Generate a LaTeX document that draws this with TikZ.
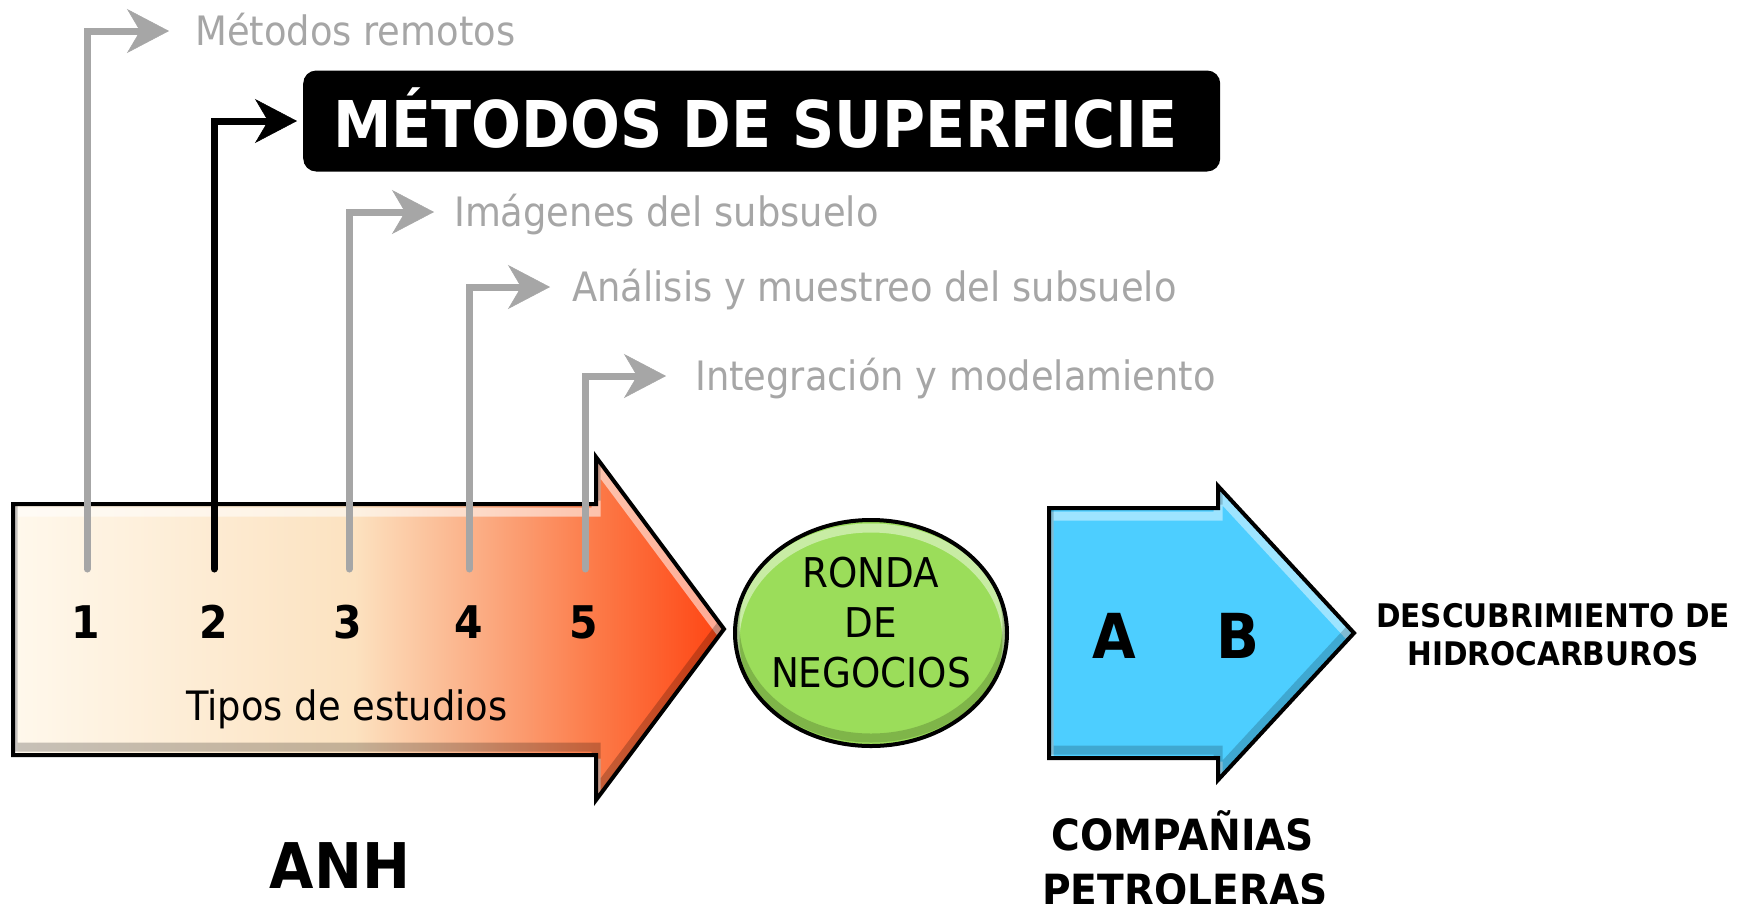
\documentclass[tikz,border=0pt]{standalone}
\usepackage{fontspec}
\setmainfont{DejaVu Sans}[FakeStretch=0.91]
\usetikzlibrary{arrows.meta,shapes.geometric}
\definecolor{grayline}{RGB}{166,166,166}
\definecolor{rondagreen}{RGB}{155,221,90}
\definecolor{ciablue}{RGB}{77,206,255}
\definecolor{ca}{RGB}{255,248,236}
\definecolor{cb}{RGB}{253,236,212}
\definecolor{cc}{RGB}{252,226,192}
\definecolor{cd}{RGB}{251,178,138}
\definecolor{ce}{RGB}{252,122,72}
\definecolor{cf}{RGB}{255,68,18}
\pgfdeclarehorizontalshading{bigarrowshade}{100bp}{color(0bp)=(ca); color(25bp)=(ca); color(38bp)=(cb); color(49bp)=(cc); color(57bp)=(cd); color(66bp)=(ce); color(75bp)=(cf); color(100bp)=(cf)}
\newcommand\bigarrowpts{(13,504) -- (596,504) -- (596,457) -- (724,629) -- (596,800) -- (596,755) -- (13,755) -- cycle}
\newcommand\bluearrowpts{(1049,508) -- (1218,508) -- (1218,486) -- (1354,633) -- (1218,780) -- (1218,758) -- (1049,758) -- cycle}
\begin{document}
\begin{tikzpicture}[x=1pt, y=-1pt,
  conngray/.style={draw=grayline, line width=7pt, line cap=round, line join=miter,
    -{Stealth[length=42pt,width=44pt,inset=13pt,line width=0.5pt]}},
  connblack/.style={conngray, draw=black},
  graytext/.style={text=grayline, font=\fontsize{40.5}{48}\selectfont, anchor=west,
    inner sep=0pt, text height=29.5pt, text depth=0pt},
  numnode/.style={font=\bfseries\fontsize{45}{50}\selectfont, anchor=base, inner sep=0pt},
  regtext/.style={font=\fontsize{41}{50}\selectfont, inner sep=0pt, align=center},
  boldlabel/.style={font=\bfseries\fontsize{43}{55}\selectfont, inner sep=0pt, anchor=base},
  outline/.style={draw=black, line width=4pt, line join=miter},
  hilite/.style={draw=white, opacity=0.55, line width=9pt},
  shadow/.style={draw=black, opacity=0.22, line width=9pt}]
\fill[white] (0,0) rectangle (1748,903);
\useasboundingbox (0,0) rectangle (1748,903);

% big arrow
\shade[shading=bigarrowshade] \bigarrowpts;
\begin{scope}
  \clip \bigarrowpts;
  \path[hilite, yshift=-8pt] \bigarrowpts;
  \path[shadow, yshift=8pt] \bigarrowpts;
\end{scope}
\path[outline] \bigarrowpts;

% numbers
\node[numnode] (n1) at (86,638) {1};
\node[numnode] (n2) at (214,638) {2};
\node[numnode] (n3) at (348,638) {3};
\node[numnode] (n4) at (469,638) {4};
\node[numnode] (n5) at (584,638) {5};
\node[font=\fontsize{40.5}{48}\selectfont, anchor=base, inner sep=0pt] (tipos) at (347,720) {Tipos de estudios};
\node[font=\bfseries\fontsize{63}{70}\selectfont, anchor=base, inner sep=0pt] (anh) at (340,888) {ANH};

% connector starts
\coordinate (s1) at (87,569);
\coordinate (s2) at (214,569);
\coordinate (s3) at (349,569);
\coordinate (s4) at (469,569);
\coordinate (s5) at (585,569);

% upper labels
\node[graytext] (t1) at (195,31) {Métodos remotos};
\node[draw=none, fill=black, rounded corners=13pt, minimum width=917pt, minimum height=101pt, inner sep=0pt, anchor=west] (box) at (303,121) {};
\node[text=white, font=\bfseries\fontsize{64.5}{70}\selectfont, anchor=base west, inner sep=0pt] (boxtext) at (333,147) {MÉTODOS DE SUPERFICIE};
\node[graytext] (t3) at (454,212) {Imágenes del subsuelo};
\node[graytext] (t4) at (572,287) {Análisis y muestreo del subsuelo};
\node[graytext] (t5) at (695,376) {Integración y modelamiento};

\draw[conngray] (s1) |- ([xshift=-26pt]t1.west);
\draw[connblack] (s2) |- ([xshift=-6pt]box.west);
\draw[conngray] (s3) |- ([xshift=-20pt]t3.west);
\draw[conngray] (s4) |- ([xshift=-22pt]t4.west);
\draw[conngray] (s5) |- ([xshift=-29pt]t5.west);

% ronda
\node[ellipse, fill=rondagreen, minimum width=272pt, minimum height=226pt, inner sep=0pt] (ronda) at (871,633) {};
\begin{scope}
  \clip (871,633) ellipse [x radius=136pt, y radius=113pt];
  \draw[hilite, opacity=0.45] (871,641) ellipse [x radius=136pt, y radius=113pt];
  \draw[shadow, opacity=0.18] (871,625) ellipse [x radius=136pt, y radius=113pt];
\end{scope}
\draw[outline] (ronda.center) ellipse [x radius=136pt, y radius=113pt];
\node[regtext] (rondatext) at (871,622.5) {RONDA\\DE\\NEGOCIOS};

% blue arrow
\fill[ciablue] \bluearrowpts;
\begin{scope}
  \clip \bluearrowpts;
  \path[hilite, opacity=0.45, yshift=-8pt] \bluearrowpts;
  \path[shadow, opacity=0.18, yshift=8pt] \bluearrowpts;
\end{scope}
\path[outline] \bluearrowpts;
\node[font=\bfseries\fontsize{62}{70}\selectfont, anchor=base, inner sep=0pt] (la) at (1114,658) {A};
\node[font=\bfseries\fontsize{62}{70}\selectfont, anchor=base, inner sep=0pt] (lb) at (1238,658) {B};

\node[font=\bfseries\fontsize{32.5}{38}\selectfont, inner sep=0pt, align=center] (desc) at (1553,634.5) {DESCUBRIMIENTO DE\\HIDROCARBUROS};
\node[boldlabel] (comp) at (1183,850) {COMPAÑIAS};
\node[boldlabel] (petro) at (1185,905) {PETROLERAS};
\end{tikzpicture}
\end{document}
